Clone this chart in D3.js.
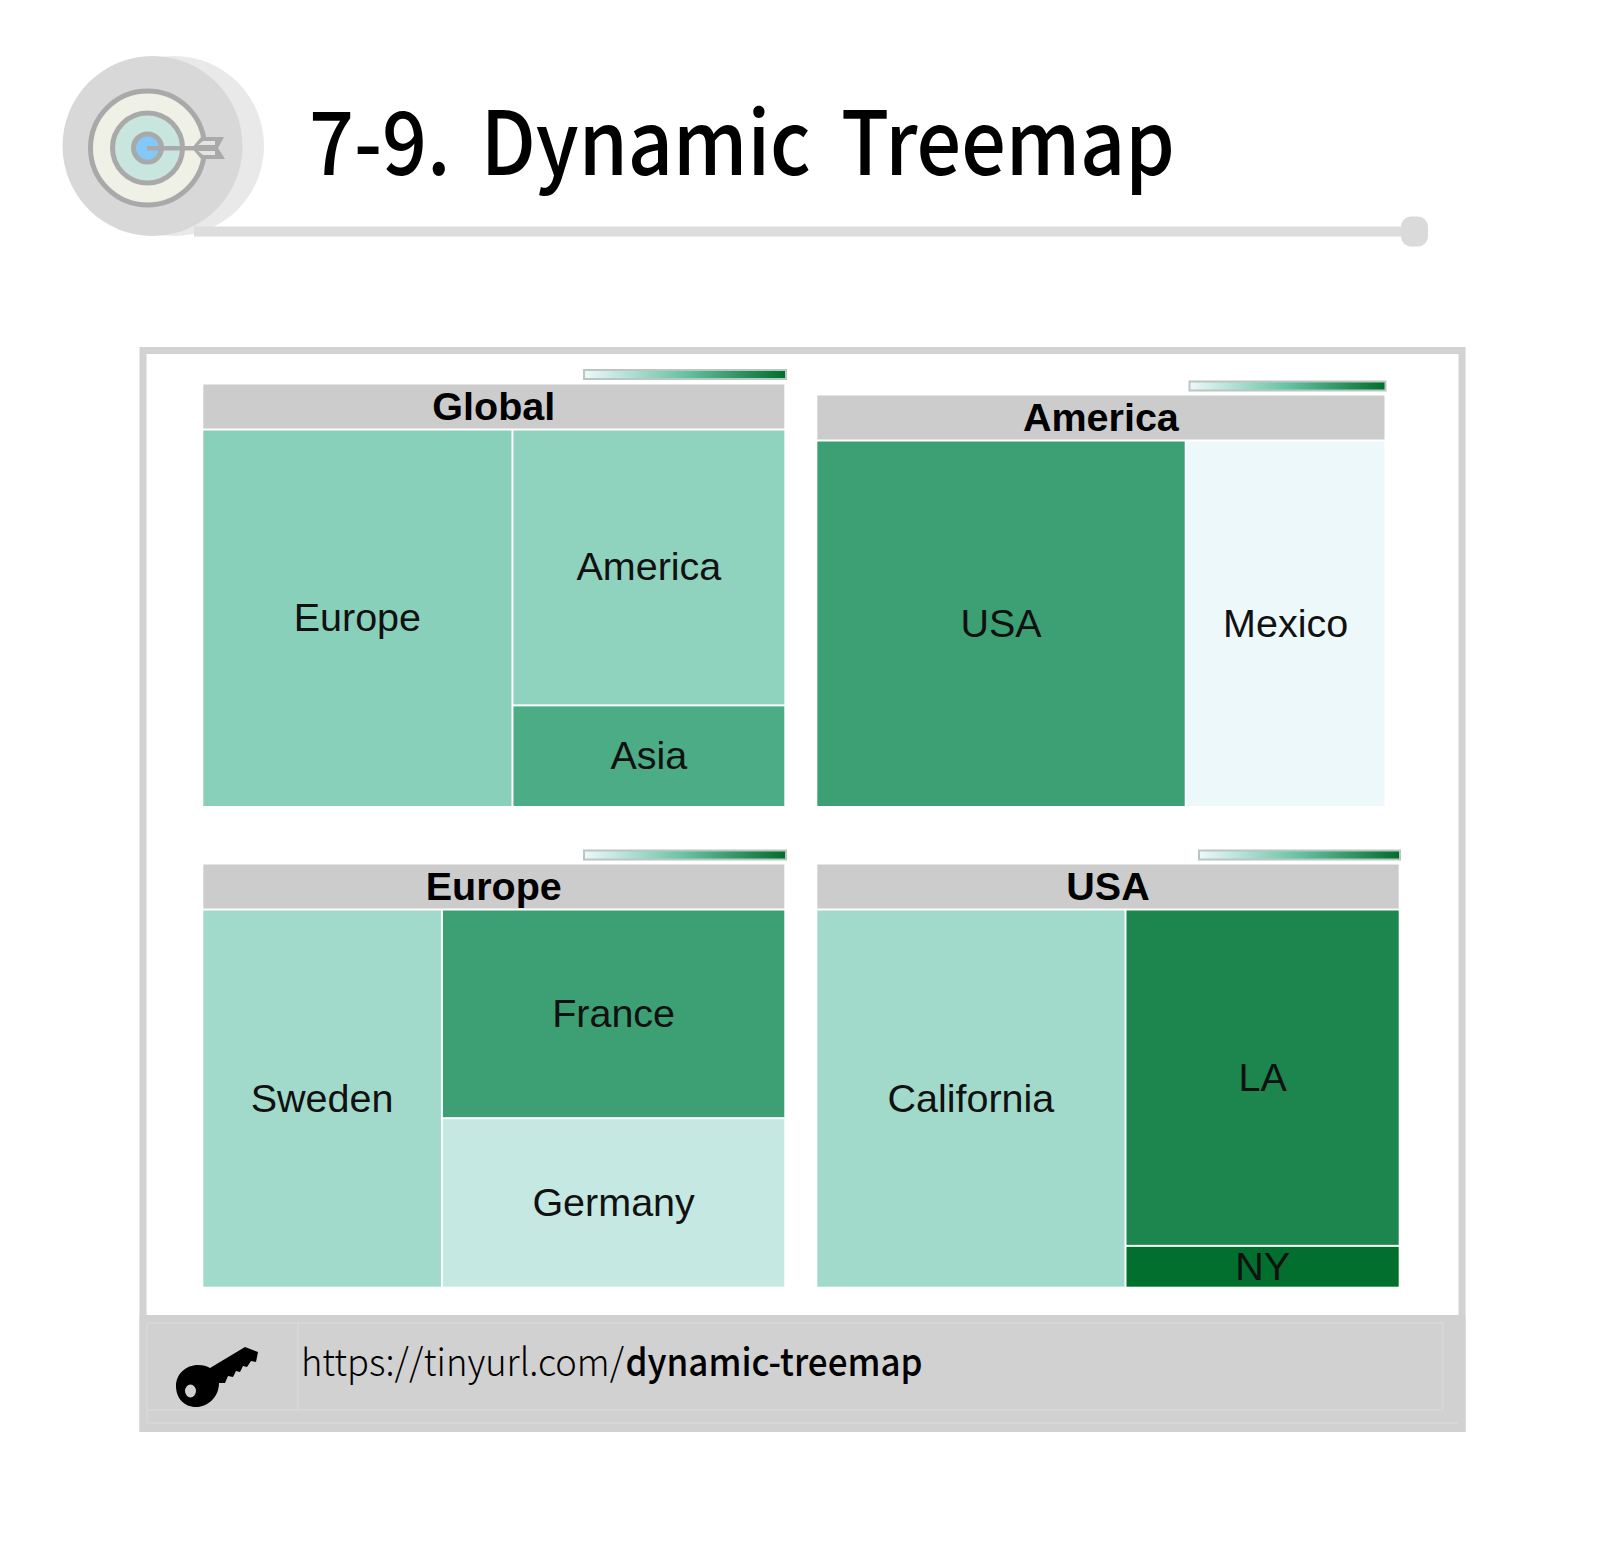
<!DOCTYPE html>
<html>
<head>
<meta charset="utf-8">
<title>Dynamic Treemap</title>
<script src="https://d3js.org/d3.v7.min.js"></script>
<style>
    html, body { margin: 0; padding: 0; background: #fff; }
    svg { display: block; }
</style>
</head>
<body>
<svg id="chart" width="1600" height="1566"></svg>
<script>
// values
const globalNames = ["Europe", "America", "Asia"];
const globalSizes = [53.2, 34.2, 12.6];
const globalColors = [0.37, 0.35, 0.63];

const americaNames = ["USA", "Mexico"];
const americaSizes = [64.9, 35.1];
const americaColors = [0.70, 0];

const europeNames = ["Sweden", "France", "Germany"];
const europeSizes = [41.1, 32.5, 26.4];
const europeColors = [0.28, 0.70, 0.145];

const usaNames = ["California", "LA", "NY"];
const usaSizes = [53.0, 41.8, 5.2];
const usaColors = [0.28, 0.86, 0.99];

const colorDomain = [0, 0.5, 1];
const colorRange = ["#edf8fb", "#66c2a4", "#006d2c"];

const titleText = "7-9. Dynamic Treemap";
const urlBase = "https://tinyurl.com/";
const urlSlug = "dynamic-treemap";

const panels = [
    { title: "Global",  names: globalNames,  sizes: globalSizes,  colors: globalColors,  x0: 203.3, x1: 784.3,  top: 384.5, legendX: 584,    legendY: 370,    legendW: 202 },
    { title: "America", names: americaNames, sizes: americaSizes, colors: americaColors, x0: 817.3, x1: 1384.5, top: 395.5, legendX: 1189.5, legendY: 381.5,  legendW: 196 },
    { title: "Europe",  names: europeNames,  sizes: europeSizes,  colors: europeColors,  x0: 203.3, x1: 784.3,  top: 864.5, legendX: 584,    legendY: 850.5,  legendW: 202 },
    { title: "USA",     names: usaNames,     sizes: usaSizes,     colors: usaColors,     x0: 817.3, x1: 1398.7, top: 864.5, legendX: 1199,   legendY: 850.5,  legendW: 201 }
];
const panelBottoms = [806, 806, 1286.7, 1286.7];
const headerHeight = 44;
const legendHeight = 9;

const color = d3.scaleLinear().domain(colorDomain).range(colorRange);
const svg = d3.select("#chart");
const defs = svg.append("defs");

// gradient for the little legends
const grad = defs.append("linearGradient").attr("id", "legendGrad");
colorDomain.forEach((d, i) => {
    grad.append("stop").attr("offset", d * 100 + "%").attr("stop-color", colorRange[i]);
});
defs.append("filter").attr("id", "soft")
    .append("feGaussianBlur").attr("stdDeviation", 0.7);

function drawBadge() {
    const g = svg.append("g").attr("filter", "url(#soft)");
    g.append("circle").attr("cx", 174).attr("cy", 146).attr("r", 90).attr("fill", "#e9e9e9");
    g.append("rect").attr("x", 194).attr("y", 226.5).attr("width", 1215).attr("height", 10).attr("fill", "#dddddd");
    g.append("rect").attr("x", 1401).attr("y", 216.5).attr("width", 27).attr("height", 30).attr("rx", 10).attr("fill", "#dadada");
    g.append("circle").attr("cx", 152.5).attr("cy", 146).attr("r", 90).attr("fill", "#d8d8d8");

    const rings = [
        { r: 57, fill: "#eff1e6" },
        { r: 35, fill: "#c9e6de" },
        { r: 14, fill: "#82c9f7" }
    ];
    g.selectAll("circle.ring").data(rings).enter().append("circle")
        .attr("class", "ring")
        .attr("cx", 147.5)
        .attr("cy", 148)
        .attr("r", d => d.r)
        .attr("fill", d => d.fill)
        .attr("stroke", "#a9a9a9")
        .attr("stroke-width", 5);

    // arrow
    g.append("rect").attr("x", 147).attr("y", 146).attr("width", 50).attr("height", 4.5).attr("fill", "#a9a9a9");
    g.append("path")
        .attr("d", "M192,148 L201,137 L224,137 L218,148 L225,159 L201,159 Z")
        .attr("fill", "#a9a9a9");
    g.append("path")
        .attr("d", "M198,145 L215,145 L215,141 L203,141 Z M198,151 L215,151 L215,155 L203,155 Z")
        .attr("fill", "#e4e4e0");
}

function drawTitle() {
    svg.append("text")
        .attr("x", 309)
        .attr("y", 174.5)
        .attr("font-family", "'Noto Sans CJK KR', 'Noto Sans', sans-serif")
        .attr("font-weight", 500)
        .attr("font-size", 88)
        .attr("word-spacing", 14)
        .attr("textLength", 866)
        .attr("lengthAdjust", "spacingAndGlyphs")
        .attr("fill", "#000")
        .text(titleText);
}

function drawFrame() {
    svg.append("rect")
        .attr("x", 143).attr("y", 350.5).attr("width", 1319).attr("height", 1078)
        .attr("fill", "#fff").attr("stroke", "#d2d2d2").attr("stroke-width", 7);

    svg.append("rect")
        .attr("x", 139.5).attr("y", 1315).attr("width", 1326).attr("height", 116.7)
        .attr("fill", "#d1d1d1");

    // faint table lines of the footer
    const lines = [
        [147, 1323, 1443, 1323],
        [147, 1410, 1443, 1410],
        [147, 1423, 1458, 1423],
        [298, 1323, 298, 1410],
        [1443, 1323, 1443, 1410],
        [147, 1323, 147, 1423]
    ];
    svg.selectAll("line.foot").data(lines).enter().append("line")
        .attr("class", "foot")
        .attr("x1", d => d[0]).attr("y1", d => d[1])
        .attr("x2", d => d[2]).attr("y2", d => d[3])
        .attr("stroke", "#dcdcdc")
        .attr("stroke-width", 1);
}

function drawFooter() {
    // key icon
    svg.append("path")
        .attr("fill-rule", "evenodd")
        .attr("fill", "#000")
        .attr("d", "M176,1386 C176,1374 186,1365 198,1365 C203,1365 207,1366 210,1368 L245,1347 L258,1352 L256,1362 L251,1361 L247,1367 L243,1366 L240,1372 L236,1371 L233,1377 L228,1376 L225,1383 L219,1383 C219,1397 208,1407 196,1407 C184,1407 176,1398 176,1386 Z M185,1391 a5.5,6.5 0 1,0 11,0 a5.5,6.5 0 1,0 -11,0 Z");

    const parts = [
        { text: urlBase, x: 301, len: 323, weight: 300 },
        { text: urlSlug, x: 625.5, len: 297, weight: 500 }
    ];
    svg.selectAll("text.url").data(parts).enter().append("text")
        .attr("class", "url")
        .attr("x", d => d.x)
        .attr("y", 1376)
        .attr("font-family", "'Noto Sans CJK KR', 'Noto Sans', sans-serif")
        .attr("font-size", 38)
        .attr("font-weight", d => d.weight)
        .attr("textLength", d => d.len)
        .attr("lengthAdjust", "spacingAndGlyphs")
        .attr("fill", "#000")
        .text(d => d.text);
}

function drawPanel(p, i) {
    const g = svg.append("g");
    const cellTop = p.top + headerHeight + 2;
    const width = p.x1 - p.x0;
    const height = panelBottoms[i] - cellTop;

    const root = d3.hierarchy({
        children: p.names.map((name, k) => ({ name: name, size: p.sizes[k], colorValue: p.colors[k] }))
    }).sum(d => d.size || 0);

    d3.treemap()
        .tile(d3.treemapSquarify.ratio(1))
        .size([width, height])
        .paddingInner(2)(root);

    // legend
    g.append("rect")
        .attr("x", p.legendX).attr("y", p.legendY)
        .attr("width", p.legendW).attr("height", legendHeight)
        .attr("fill", "url(#legendGrad)")
        .attr("stroke", "#bcc6c1")
        .attr("stroke-width", 2);

    // header
    g.append("rect")
        .attr("x", p.x0).attr("y", p.top)
        .attr("width", width).attr("height", headerHeight)
        .attr("fill", "#cccccc");
    g.append("text")
        .attr("x", p.x0 + width / 2)
        .attr("y", p.top + 35)
        .attr("text-anchor", "middle")
        .attr("font-family", "'Liberation Sans', Arial, sans-serif")
        .attr("font-weight", "bold")
        .attr("font-size", 39.5)
        .attr("fill", "#000")
        .text(p.title);

    const cell = g.selectAll("g.cell").data(root.leaves()).enter().append("g")
        .attr("class", "cell")
        .attr("transform", d => `translate(${p.x0 + d.x0},${cellTop + d.y0})`);

    cell.append("rect")
        .attr("width", d => d.x1 - d.x0)
        .attr("height", d => d.y1 - d.y0)
        .attr("fill", d => color(d.data.colorValue));

    cell.append("text")
        .attr("x", d => (d.x1 - d.x0) / 2)
        .attr("y", d => (d.y1 - d.y0) / 2 + 13)
        .attr("text-anchor", "middle")
        .attr("font-family", "'Liberation Sans', Arial, sans-serif")
        .attr("font-size", 39.5)
        .attr("fill", "#111")
        .text(d => d.data.name);
}

drawBadge();
drawTitle();
drawFrame();
panels.forEach(drawPanel);
drawFooter();
</script>
</body>
</html>
